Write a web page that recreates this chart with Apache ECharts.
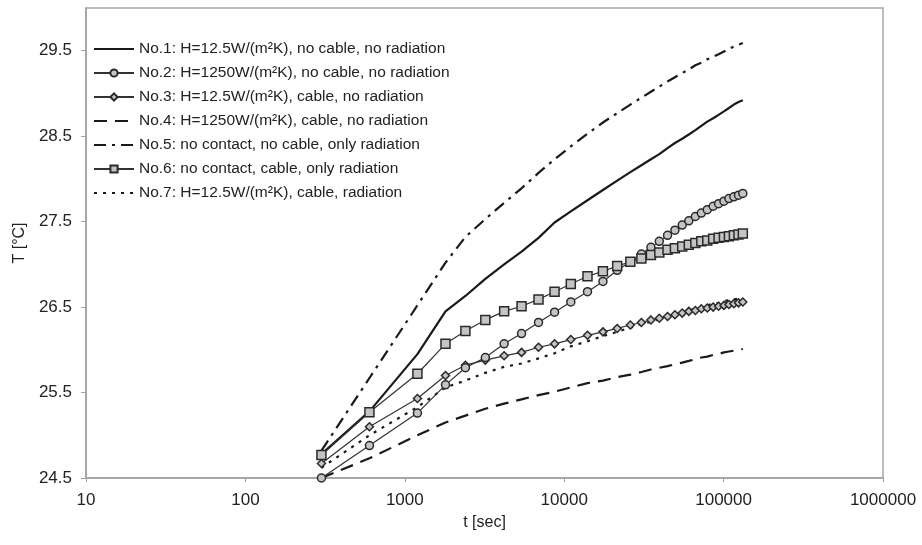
<!DOCTYPE html>
<html>
<head>
<meta charset="utf-8">
<script src="https://cdn.jsdelivr.net/npm/echarts@6/dist/echarts.min.js"></script>
<style>
html,body{margin:0;padding:0;background:#fff;}
#chart{width:922px;height:545px;}
</style>
</head>
<body>
<div id="chart"></div>
<script>
// time points [s]
var tSec = [300, 600, 1200, 1800, 2400, 3200, 4200, 5400, 6900, 8700, 11000, 14000, 17500, 21500, 26000, 30500, 35000, 39500, 44500, 49500, 55000, 60500, 66500, 72500, 79000, 86000, 93000, 100500, 108000, 116000, 124000, 132000];

var no1 = [24.78, 25.28, 25.95, 26.45, 26.63, 26.83, 27.00, 27.15, 27.31, 27.49, 27.62, 27.75, 27.87, 27.98, 28.08, 28.16, 28.23, 28.29, 28.36, 28.42, 28.47, 28.52, 28.57, 28.62, 28.67, 28.71, 28.75, 28.79, 28.83, 28.87, 28.90, 28.92];
var no2 = [24.50, 24.88, 25.26, 25.59, 25.79, 25.91, 26.07, 26.19, 26.32, 26.44, 26.56, 26.68, 26.80, 26.93, 27.03, 27.12, 27.20, 27.27, 27.34, 27.40, 27.46, 27.51, 27.56, 27.60, 27.64, 27.68, 27.71, 27.74, 27.77, 27.79, 27.81, 27.83];
var no3 = [24.67, 25.10, 25.43, 25.70, 25.82, 25.88, 25.93, 25.97, 26.03, 26.07, 26.12, 26.17, 26.21, 26.25, 26.29, 26.32, 26.35, 26.37, 26.39, 26.41, 26.43, 26.45, 26.46, 26.48, 26.49, 26.50, 26.51, 26.52, 26.53, 26.54, 26.55, 26.56];
var no4 = [24.50, 24.73, 25.00, 25.15, 25.23, 25.31, 25.37, 25.42, 25.47, 25.51, 25.56, 25.61, 25.64, 25.68, 25.71, 25.74, 25.77, 25.79, 25.81, 25.83, 25.85, 25.87, 25.89, 25.91, 25.92, 25.94, 25.95, 25.97, 25.98, 25.99, 26.00, 26.01];
var no5 = [24.82, 25.67, 26.52, 27.02, 27.32, 27.53, 27.72, 27.89, 28.07, 28.23, 28.38, 28.53, 28.66, 28.77, 28.87, 28.95, 29.02, 29.08, 29.14, 29.19, 29.24, 29.28, 29.33, 29.36, 29.40, 29.43, 29.46, 29.49, 29.52, 29.55, 29.57, 29.59];
var no6 = [24.77, 25.27, 25.72, 26.07, 26.22, 26.35, 26.45, 26.51, 26.59, 26.68, 26.77, 26.86, 26.92, 26.98, 27.03, 27.07, 27.11, 27.14, 27.17, 27.19, 27.21, 27.23, 27.25, 27.27, 27.28, 27.30, 27.31, 27.32, 27.33, 27.34, 27.35, 27.36];
var no7 = [24.62, 25.00, 25.33, 25.56, 25.64, 25.73, 25.80, 25.84, 25.90, 25.96, 26.04, 26.10, 26.16, 26.21, 26.26, 26.30, 26.33, 26.36, 26.39, 26.42, 26.44, 26.46, 26.48, 26.50, 26.52, 26.54, 26.55, 26.57, 26.58, 26.59, 26.60, 26.61];

var seriesNames = [
  'No.1: H=12.5W/(m²K), no cable, no radiation',
  'No.2: H=1250W/(m²K), no cable, no radiation',
  'No.3: H=12.5W/(m²K), cable, no radiation',
  'No.4: H=1250W/(m²K), cable, no radiation',
  'No.5: no contact, no cable, only radiation',
  'No.6: no contact, cable, only radiation',
  'No.7: H=12.5W/(m²K), cable, radiation'
];
var hasMarker = [false, true, true, false, false, true, false];
var yTicks = [24.5, 25.5, 26.5, 27.5, 28.5, 29.5];
var xTicks = [10, 100, 1000, 10000, 100000, 1000000];

function pairs(vals){ return tSec.map(function(t,i){ return [t, vals[i]]; }); }

var FONT = '"Liberation Sans", Arial, Helvetica, sans-serif';
var LINE = '#1a1a1a';

function plainLine(name, vals, width, dash, z){
  return {
    name: name, type: 'line', data: pairs(vals), symbol: 'none', z: z,
    lineStyle: {color: LINE, width: width, type: dash},
    itemStyle: {color: LINE}
  };
}
function markLine(name, vals, sym, size, z){
  return {
    name: name, type: 'line', data: pairs(vals), symbol: sym, symbolSize: size, z: z,
    showSymbol: true,
    lineStyle: {color: '#333', width: 1.2},
    itemStyle: {color: '#c4c4c4', borderColor: '#2a2a2a', borderWidth: 1.5}
  };
}

var legendData = seriesNames.map(function(n, i){
  return hasMarker[i] ? {name: n} : {name: n, itemStyle: {opacity: 0, color: 'rgba(0,0,0,0)', borderWidth: 0}};
});

var chart = echarts.init(document.getElementById('chart'), null, {renderer: 'canvas'});
chart.setOption({
  animation: false,
  backgroundColor: '#fff',
  textStyle: {fontFamily: FONT},
  grid: {left: 86, top: 8, right: 39, bottom: 67, show: true, borderColor: '#a8a8a8', borderWidth: 1.5, containLabel: false, outerBoundsMode: 'none'},
  legend: {
    orient: 'vertical', left: 88, top: 36, itemWidth: 40, itemHeight: 9, itemGap: 8,
    selectedMode: false,
    textStyle: {fontFamily: FONT, fontSize: 15.5, color: '#222', lineHeight: 14},
    data: legendData
  },
  xAxis: {
    type: 'log', logBase: 10, min: 10, max: 1000000,
    name: 't [sec]', nameLocation: 'middle', nameGap: 37,
    nameTextStyle: {fontFamily: FONT, fontSize: 16, color: '#222'},
    axisLine: {lineStyle: {color: '#a0a0a0', width: 1.5}},
    axisTick: {show: true, length: 4, lineStyle: {color: '#a0a0a0'}},
    minorTick: {show: false},
    splitLine: {show: false},
    axisLabel: {fontFamily: FONT, fontSize: 17, color: '#222', margin: 14,
      customValues: xTicks, formatter: function(v){ return String(Math.round(v)); }}
  },
  yAxis: {
    type: 'value', min: 24.5, max: 30,
    name: 'T [°C]', nameLocation: 'middle', nameGap: 58, nameRotate: 90,
    nameTextStyle: {fontFamily: FONT, fontSize: 16, color: '#222'},
    axisLine: {show: true, lineStyle: {color: '#a0a0a0', width: 1.5}},
    axisTick: {show: true, length: 5, lineStyle: {color: '#a0a0a0'}, customValues: yTicks},
    splitLine: {show: false},
    axisLabel: {fontFamily: FONT, fontSize: 17, color: '#222', margin: 14,
      customValues: yTicks, formatter: function(v){ return v.toFixed(1); }}
  },
  series: [
    plainLine(seriesNames[0], no1, 2.2, 'solid', 3),
    markLine(seriesNames[1], no2, 'circle', 8, 6),
    markLine(seriesNames[2], no3, 'diamond', 8, 5),
    plainLine(seriesNames[3], no4, 2.2, [13, 8], 3),
    plainLine(seriesNames[4], no5, 2.2, [12, 6, 3, 6], 3),
    markLine(seriesNames[5], no6, 'rect', 9, 7),
    plainLine(seriesNames[6], no7, 2.2, [3, 6], 3)
  ]
});
</script>
</body>
</html>
